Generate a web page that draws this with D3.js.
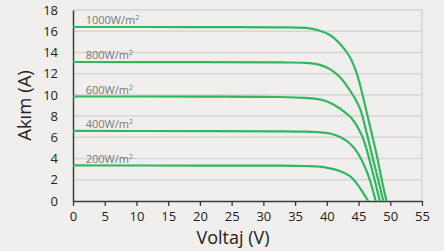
<!DOCTYPE html>
<html>
<head>
<meta charset="utf-8">
<script src="https://cdn.jsdelivr.net/npm/d3@7"></script>
<style>
  body { margin: 0; background: #f0efed; }
  svg { display: block; }
  text { font-family: "Open Sans", sans-serif; }
</style>
</head>
<body>
<div id="chart"></div>
<script>
// I-V curves, [voltage, current]
var irradiance = ['1000', '800', '600', '400', '200'];
var curve1000 = [[0,16.4],[20,16.39],[32.6,16.37],[37.3,16.27],[38.9,16.05],[40.5,15.64],[42.0,14.86],[43.6,13.6],[44.7,12.06],[45.7,9.83],[46.7,7.3],[47.8,4.5],[48.8,1.6],[49.4,0]];
var curve800  = [[0,13.1],[20,13.09],[32.6,13.06],[37.3,13.0],[38.9,12.83],[40.5,12.43],[42.0,11.71],[43.6,10.46],[45.2,8.75],[46.2,6.6],[47.3,3.9],[48.3,1.5],[48.9,0]];
var curve600  = [[0,9.85],[20,9.84],[32.6,9.8],[36.5,9.72],[38.9,9.58],[40.5,9.27],[42.0,8.74],[43.9,7.8],[45.5,6.2],[46.3,4.8],[47.0,3.23],[47.7,1.6],[48.35,0]];
var curve400  = [[0,6.6],[20,6.59],[32.6,6.57],[36.5,6.54],[38.9,6.48],[40.5,6.36],[42.0,6.06],[43.6,5.44],[44.9,4.5],[46.0,3.2],[46.8,1.95],[47.7,0]];
var curve200  = [[0,3.35],[20,3.34],[32.6,3.33],[36.5,3.3],[38.9,3.24],[40.5,3.08],[42.0,2.83],[43.6,2.36],[44.9,1.5],[45.9,0.6],[46.5,0]];
var curves = [curve1000, curve800, curve600, curve400, curve200];
var xTicks = [0,5,10,15,20,25,30,35,40,45,50,55];
var yTicks = [0,2,4,6,8,10,12,14,16,18];

var width = 444, height = 251;
var margin = {top: 10, right: 22, bottom: 50, left: 73};

var svg = d3.select('#chart').append('svg')
    .attr('width', width)
    .attr('height', height);

var x = d3.scaleLinear().domain([0, 55]).range([margin.left, width - margin.right]);
var y = d3.scaleLinear().domain([0, 18]).range([height - margin.bottom, margin.top]);

// grid
svg.append('g').attr('class', 'grid')
  .selectAll('line')
  .data(yTicks.slice(1))
  .enter().append('line')
    .attr('x1', x(0)).attr('x2', x(55))
    .attr('y1', function(d) { return y(d); })
    .attr('y2', function(d) { return y(d); })
    .attr('stroke', '#d5d5d5')
    .attr('stroke-width', 1.5);

svg.append('line')
    .attr('x1', x(55)).attr('x2', x(55))
    .attr('y1', y(0)).attr('y2', y(18))
    .attr('stroke', '#d5d5d5')
    .attr('stroke-width', 1.5);

// axes
var xAxis = svg.append('g')
    .attr('transform', 'translate(0,' + y(0) + ')')
    .call(d3.axisBottom(x).tickValues(xTicks).tickSize(5).tickPadding(6).tickSizeOuter(0));
var yAxis = svg.append('g')
    .attr('transform', 'translate(' + x(0) + ',0)')
    .call(d3.axisLeft(y).tickValues(yTicks).tickSize(0).tickPadding(15));

[xAxis, yAxis].forEach(function(a) {
  a.select('.domain').attr('stroke', '#3a3a3a').attr('stroke-width', 1.5);
  a.selectAll('.tick line').attr('stroke', '#3a3a3a').attr('stroke-width', 1.3);
  a.selectAll('.tick text')
    .attr('font-family', '"Open Sans", sans-serif')
    .attr('font-size', 13)
    .attr('fill', '#222');
});

// curves
var line = d3.line()
    .x(function(d) { return x(d[0]); })
    .y(function(d) { return y(d[1]); })
    .curve(d3.curveCatmullRom.alpha(0.5));

svg.append('g').selectAll('path')
  .data(curves)
  .enter().append('path')
    .attr('d', line)
    .attr('fill', 'none')
    .attr('stroke', '#2fb85f')
    .attr('stroke-width', 2.2);

// labels
var labels = svg.append('g').selectAll('text')
  .data(curves)
  .enter().append('text')
    .attr('x', x(2))
    .attr('y', function(d) { return y(d[0][1]) - 2.5; })
    .attr('font-size', 11)
    .attr('fill', '#777')
    .text(function(d, i) { return irradiance[i] + 'W/m'; });
labels.append('tspan')
    .attr('font-size', 7)
    .attr('dy', -4)
    .text('2');

svg.append('text')
    .attr('transform', 'translate(31,' + ((y(0) + y(18)) / 2) + ')rotate(-90)')
    .attr('text-anchor', 'middle')
    .attr('font-size', 18.5)
    .attr('fill', '#222')
    .text('Akım (A)');

svg.append('text')
    .attr('x', 233)
    .attr('y', 244)
    .attr('text-anchor', 'middle')
    .attr('font-size', 18)
    .attr('fill', '#222')
    .text('Voltaj (V)');
</script>
</body>
</html>
